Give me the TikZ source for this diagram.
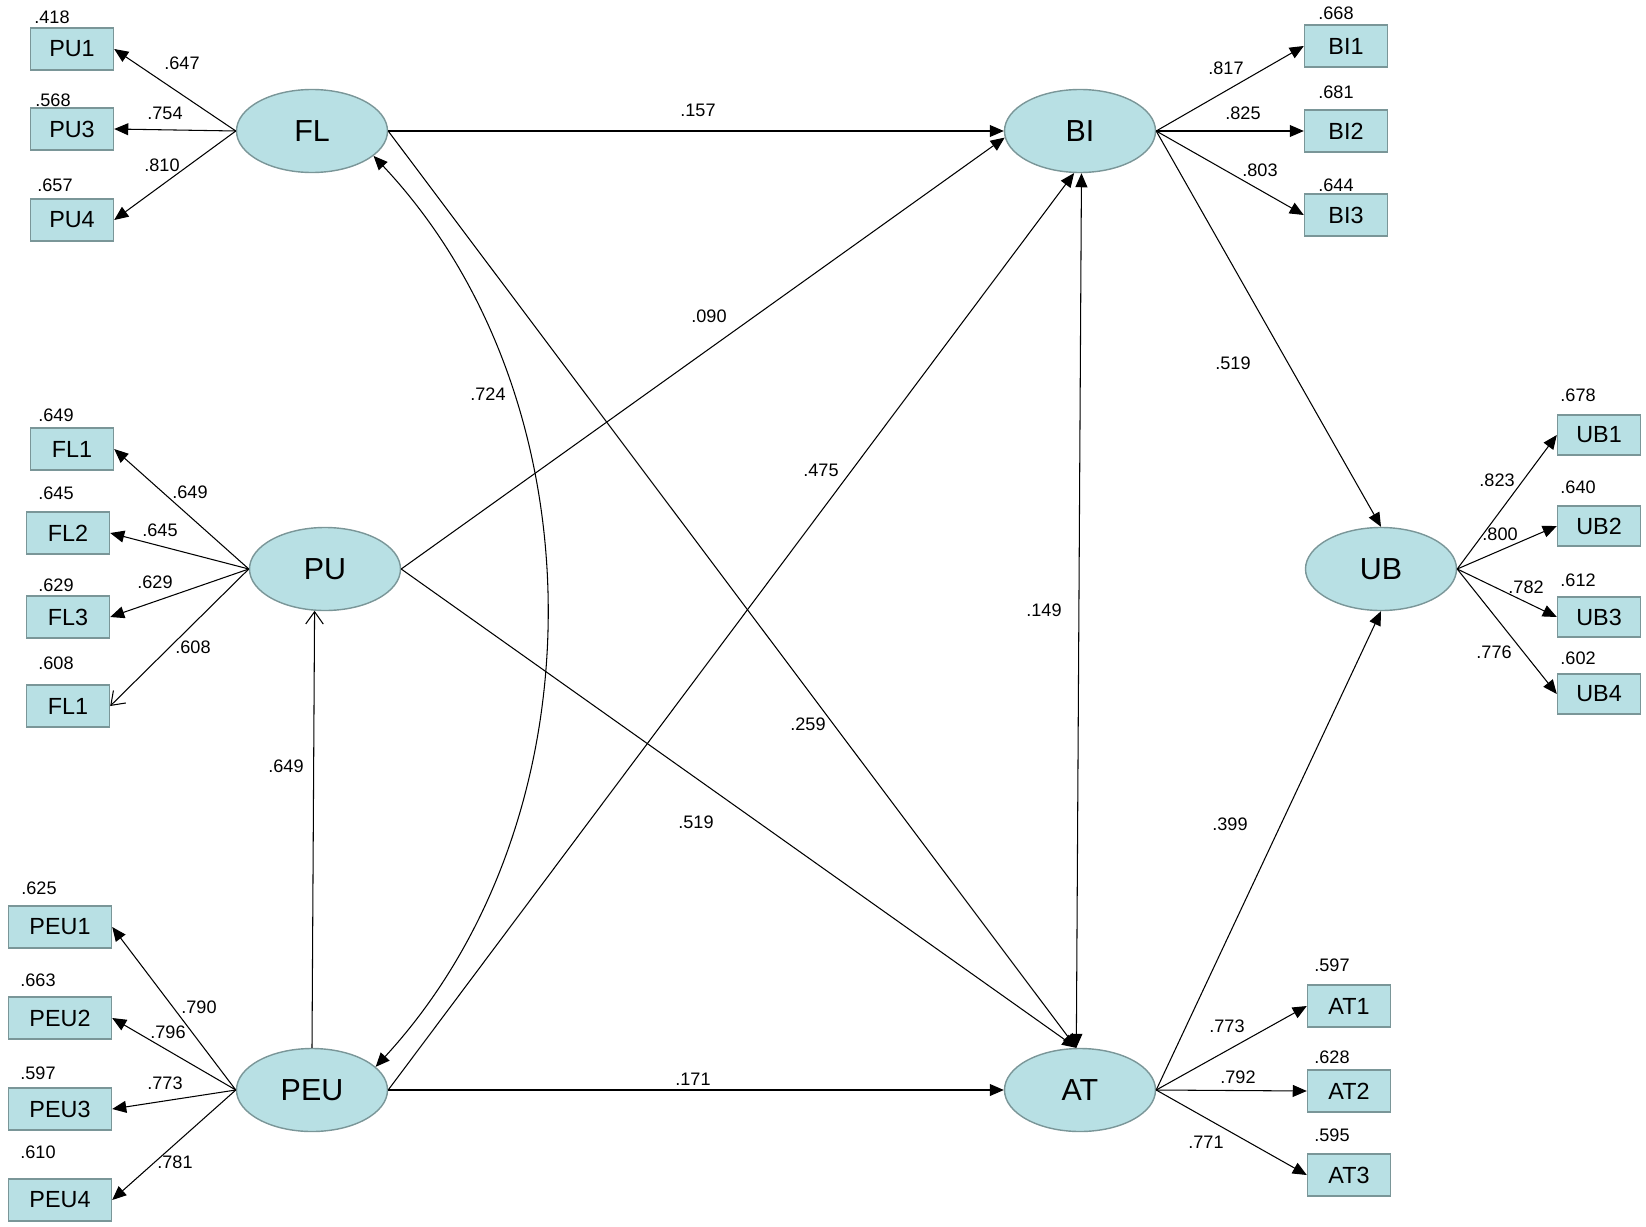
\documentclass[tikz,border=0pt]{standalone}
\usepackage{fontspec}
\setmainfont{Liberation Sans}
\usetikzlibrary{shapes.geometric,arrows.meta}
\definecolor{latfill}{RGB}{184,224,228}
\definecolor{latline}{RGB}{122,150,152}
\begin{document}
\begin{tikzpicture}[x=0.2mm,y=-0.2mm,
  latent/.style={ellipse, fill=latfill, draw=latline, line width=0.8pt, minimum width=30.2mm, minimum height=16.6mm, inner sep=0pt, font=\fontsize{17.3}{20}\selectfont},
  ind/.style={rectangle, fill=latfill, draw=latline, line width=0.8pt, minimum width=16.6mm, minimum height=8.4mm, inner sep=0pt, font=\fontsize{13.3}{15}\selectfont},
  num/.style={inner sep=0pt, font=\fontsize{10.3}{12}\selectfont},
  arr/.style={-{Triangle[length=8pt,width=6.8pt]}, line width=0.6pt},
  opn/.style={-{Straight Barb[length=7pt,width=10pt]}, line width=0.6pt},
  dbl/.style={{Triangle[length=8pt,width=6.8pt]}-{Triangle[length=8pt,width=6.8pt]}, line width=0.6pt}]
\useasboundingbox (0,0) rectangle (1646,1227);
\node [latent] (FL) at (312,131) {FL};
\node [latent] (PU) at (325,569) {PU};
\node [latent] (PEU) at (312,1090) {PEU};
\node [latent] (BI) at (1080,131) {BI};
\node [latent] (UB) at (1381,569) {UB};
\node [latent] (AT) at (1080,1090) {AT};
\node [ind] (PU1) at (72,49) {PU1};
\node [ind] (PU3) at (72,129) {PU3};
\node [ind] (PU4) at (72,220) {PU4};
\node [ind] (FL1) at (72,449) {FL1};
\node [ind] (FL2) at (68,533) {FL2};
\node [ind] (FL3) at (68,617) {FL3};
\node [ind] (FL1b) at (68,706) {FL1};
\node [ind, minimum width=20.6mm] (PEU1) at (60,927) {PEU1};
\node [ind, minimum width=20.6mm] (PEU2) at (60,1018) {PEU2};
\node [ind, minimum width=20.6mm] (PEU3) at (60,1109) {PEU3};
\node [ind, minimum width=20.6mm] (PEU4) at (60,1200) {PEU4};
\node [ind] (BI1) at (1346,46) {BI1};
\node [ind] (BI2) at (1346,131) {BI2};
\node [ind] (BI3) at (1346,215) {BI3};
\node [ind, minimum height=8mm] (UB1) at (1599,435) {UB1};
\node [ind, minimum height=8mm] (UB2) at (1599,526) {UB2};
\node [ind, minimum height=8mm] (UB3) at (1599,617) {UB3};
\node [ind, minimum height=8mm] (UB4) at (1599,694) {UB4};
\node [ind] (AT1) at (1349,1006) {AT1};
\node [ind] (AT2) at (1349,1091) {AT2};
\node [ind] (AT3) at (1349,1175) {AT3};
\node [num] (r-PU1) at (52,17) {.418};
\node [num] (r-PU3) at (53,100) {.568};
\node [num] (r-PU4) at (55,185) {.657};
\node [num] (r-FL1) at (56,415) {.649};
\node [num] (r-FL2) at (56,493) {.645};
\node [num] (r-FL3) at (56,585) {.629};
\node [num] (r-FL1b) at (56,663) {.608};
\node [num] (r-PEU1) at (39,888) {.625};
\node [num] (r-PEU2) at (38,980) {.663};
\node [num] (r-PEU3) at (38,1073) {.597};
\node [num] (r-PEU4) at (38,1152) {.610};
\node [num] (r-BI1) at (1336,13) {.668};
\node [num] (r-BI2) at (1336,92) {.681};
\node [num] (r-BI3) at (1336,185) {.644};
\node [num] (r-UB1) at (1578,395) {.678};
\node [num] (r-UB2) at (1578,487) {.640};
\node [num] (r-UB3) at (1578,580) {.612};
\node [num] (r-UB4) at (1578,658) {.602};
\node [num] (r-AT1) at (1332,965) {.597};
\node [num] (r-AT2) at (1332,1057) {.628};
\node [num] (r-AT3) at (1332,1135) {.595};
\draw [arr] (FL.west) -- (PU1.east);
\draw [arr] (FL.west) -- (PU3.east);
\draw [arr] (FL.west) -- (PU4.east);
\draw [arr] (PU.west) -- (FL1.east);
\draw [arr] (PU.west) -- (FL2.east);
\draw [arr] (PU.west) -- (FL3.east);
\draw [opn] (PU.west) -- (FL1b.east);
\draw [arr] (PEU.west) -- (PEU1.east);
\draw [arr] (PEU.west) -- (PEU2.east);
\draw [arr] (PEU.west) -- (PEU3.east);
\draw [arr] (PEU.west) -- (PEU4.east);
\draw [arr] (BI.east) -- (BI1.west);
\draw [arr] (BI.east) -- (BI2.west);
\draw [arr] (BI.east) -- (BI3.west);
\draw [arr] (UB.east) -- (UB1.west);
\draw [arr] (UB.east) -- (UB2.west);
\draw [arr] (UB.east) -- (UB3.west);
\draw [arr] (UB.east) -- (UB4.west);
\draw [arr] (AT.east) -- (AT1.west);
\draw [arr] (AT.east) -- (AT2.west);
\draw [arr] (AT.east) -- (AT3.west);
\node [num] (l-PU1) at (182,63) {.647};
\node [num] (l-PU3) at (165,113) {.754};
\node [num] (l-PU4) at (162,165) {.810};
\node [num] (l-FL1) at (190,492) {.649};
\node [num] (l-FL2) at (160,530) {.645};
\node [num] (l-FL3) at (155,582) {.629};
\node [num] (l-FL1b) at (193,647) {.608};
\node [num] (l-PEU1) at (199,1007) {.790};
\node [num] (l-PEU2) at (168,1032) {.796};
\node [num] (l-PEU3) at (165,1083) {.773};
\node [num] (l-PEU4) at (175,1162) {.781};
\node [num] (l-BI1) at (1226,68) {.817};
\node [num] (l-BI2) at (1243,113) {.825};
\node [num] (l-BI3) at (1260,170) {.803};
\node [num] (l-UB1) at (1497,480) {.823};
\node [num] (l-UB2) at (1500,534) {.800};
\node [num] (l-UB3) at (1526,587) {.782};
\node [num] (l-UB4) at (1494,652) {.776};
\node [num] (l-AT1) at (1227,1026) {.773};
\node [num] (l-AT2) at (1238,1077) {.792};
\node [num] (l-AT3) at (1206,1142) {.771};
\draw [arr] (FL.east) -- (BI.west);
\draw [arr] (FL.east) -- (AT.95);
\draw [arr] (PU.east) -- (BI.185);
\draw [arr] (PU.east) -- (AT.95);
\draw [arr] (PEU.east) -- (BI.262);
\draw [arr] (PEU.east) -- (AT.west);
\draw [opn] (PEU.north) -- (PU.256);
\draw [dbl] (BI.272) -- (AT.95);
\draw [dbl] (FL.-22) .. controls (603,400) and (603,820) .. (PEU.20);
\draw [arr] (BI.east) -- (UB.north);
\draw [arr] (AT.east) -- (UB.south);
\node [num] (p-FLBI) at (698,110) {.157};
\node [num] (p-PUBI) at (709,316) {.090};
\node [num] (p-FLPEU) at (488,394) {.724};
\node [num] (p-PEUBI) at (821,470) {.475};
\node [num] (p-BIAT) at (1044,610) {.149};
\node [num] (p-FLAT) at (808,724) {.259};
\node [num] (p-PUAT) at (696,822) {.519};
\node [num] (p-PEUPU) at (286,766) {.649};
\node [num] (p-PEUAT) at (693,1079) {.171};
\node [num] (p-BIUB) at (1233,363) {.519};
\node [num] (p-ATUB) at (1230,824) {.399};
\end{tikzpicture}
\end{document}
